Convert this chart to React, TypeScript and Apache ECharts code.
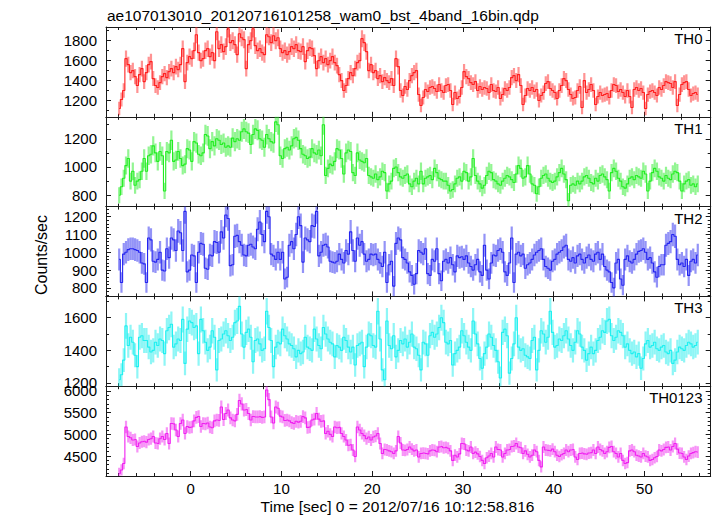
import React, { useEffect, useRef } from "react";
import * as echarts from "echarts";

const TITLE = "ae107013010_20120716101258_wam0_bst_4band_16bin.qdp";
const X_LABEL = "Time [sec] 0 = 2012/07/16 10:12:58.816";
const Y_LABEL = "Counts/sec";

// bin width (s) and centre of the first bin
const BIN = 0.25;
const T_START = -7.875;

const TH0 = [
  1120, 1210, 1300, 1620, 1560, 1480, 1500, 1440, 1350, 1460, 1520, 1390, 1480, 1560, 1590, 1420,
  1350, 1330, 1380, 1440, 1470, 1430, 1490, 1520, 1480, 1540, 1510, 1560, 1720, 1390, 1580, 1640,
  1620, 1700, 1860, 1680, 1600, 1620, 1700, 1720, 1640, 1680, 1600, 1890, 1720, 1760, 1690, 1740,
  1920, 1780, 1800, 1760, 1660, 1870, 1830, 1810, 1520, 1760, 1800, 1920, 1750, 1700, 1720, 1680,
  1660, 1860, 1840, 1780, 1850, 1800, 1830, 1720, 1680, 1700, 1660, 1690, 1740, 1720, 1760, 1700,
  1690, 1740, 1590, 1700, 1730, 1720, 1650, 1520, 1600, 1640, 1580, 1620, 1560, 1600, 1640, 1580,
  1550, 1460, 1400, 1300, 1350, 1420, 1480, 1450, 1520, 1580, 1600, 1820, 1780, 1690, 1500, 1560,
  1480, 1500, 1420, 1450, 1390, 1430, 1400, 1380, 1420, 1350, 1620, 1540, 1300, 1250, 1340, 1310,
  1400, 1450, 1480, 1500, 1260, 1150, 1230, 1310, 1290, 1330, 1340, 1320, 1290, 1360, 1300, 1280,
  1350, 1360, 1300, 1160, 1280, 1220, 1240, 1330, 1490, 1440, 1420, 1380, 1360, 1390, 1300, 1340,
  1310, 1330, 1320, 1280, 1360, 1300, 1290, 1330, 1220, 1260, 1320, 1300, 1330, 1430, 1450, 1400,
  1460, 1350, 1160, 1250, 1320, 1300, 1330, 1290, 1310, 1200, 1250, 1280, 1370, 1390, 1320, 1300,
  1280, 1220, 1300, 1350, 1420, 1400, 1310, 1260, 1220, 1230, 1300, 1340, 1130, 1400, 1280, 1310,
  1360, 1300, 1160, 1240, 1280, 1250, 1260, 1270, 1230, 1300, 1360, 1350, 1290, 1310, 1280, 1240,
  1300, 1240, 1130, 1310, 1330, 1300, 1320, 1280, 1120, 1260, 1290, 1300, 1280, 1250, 1330, 1310,
  1350, 1390, 1380, 1370, 1330, 1390, 1150, 1260, 1360, 1380, 1390, 1310, 1250, 1270, 1280, 1260,
];

const TH1 = [
  800, 860, 920, 1010, 1060, 900, 970, 870, 900, 910, 970, 1060, 970, 1080, 1090, 1150,
  1100, 1040, 1110, 1080, 830, 1110, 1100, 1190, 1040, 1050, 1110, 1060, 1010, 1020, 1130, 1120,
  1040, 1180, 1170, 1090, 1080, 1100, 1230, 1220, 1130, 1180, 1150, 1200, 1190, 1160, 1170, 1140,
  1150, 1140, 1205, 1180, 1200, 1190, 1250, 1270, 1250, 1240, 1160, 1230, 1270, 1260, 1200, 1190,
  1140, 1230, 1200, 1180, 1170, 1320, 1300, 1080, 1060, 1130, 1140, 1120, 1150, 1200, 1210, 1190,
  1130, 1090, 1080, 1060, 1070, 1130, 1100, 1090, 1120, 1080, 1300, 940, 990, 1020, 1010, 1040,
  1130, 1120, 1060, 950, 1100, 1120, 1110, 960, 940, 1100, 1050, 1040, 1030, 1060, 940, 930,
  920, 950, 910, 930, 970, 960, 830, 880, 900, 990, 1000, 960, 930, 920, 940, 950,
  880, 860, 900, 920, 880, 970, 880, 920, 930, 940, 910, 990, 960, 920, 910, 900,
  900, 870, 830, 840, 880, 920, 930, 900, 970, 960, 900, 930, 1060, 940, 900, 880,
  850, 870, 940, 970, 960, 910, 900, 880, 870, 900, 920, 940, 930, 910, 890, 950,
  1010, 990, 920, 930, 1010, 950, 880, 870, 810, 860, 920, 940, 950, 920, 900, 890,
  900, 930, 960, 990, 950, 910, 760, 870, 880, 870, 900, 880, 900, 930, 940, 920,
  890, 880, 920, 900, 940, 950, 930, 910, 830, 960, 990, 970, 920, 900, 860, 850,
  880, 920, 930, 910, 940, 930, 920, 970, 950, 830, 900, 960, 990, 970, 930, 920,
  900, 940, 920, 910, 950, 970, 960, 900, 830, 880, 900, 910, 870, 880, 860, 880,
];

const TH2 = [
  960, 830, 990, 1000, 1015, 1020, 1020, 1015, 1010, 1000, 940, 935, 830, 1080, 1070, 950,
  945, 960, 1000, 900, 895, 1020, 970, 1080, 1070, 1010, 1120, 1110, 1010, 1230, 890, 900,
  985, 980, 830, 1000, 1050, 1045, 910, 905, 985, 980, 1060, 1055, 1000, 1115, 1080, 1210,
  1190, 925, 930, 1090, 1095, 1060, 1040, 985, 980, 1040, 1045, 1030, 1020, 1130, 1170, 1100,
  1060, 1230, 1200, 990, 980, 960, 1000, 960, 1000, 850, 860, 1040, 1060, 1020, 1100, 1200,
  1150, 945, 1080, 1070, 1060, 1150, 1145, 1230, 980, 1000, 1040, 1045, 1030, 950, 945, 940,
  950, 990, 960, 940, 1010, 990, 1115, 1010, 950, 1080, 1040, 1060, 990, 950, 960, 990,
  985, 990, 960, 940, 920, 1000, 830, 930, 950, 810, 1050, 1080, 1070, 970, 960, 940,
  890, 870, 820, 880, 1010, 1000, 990, 1020, 880, 870, 960, 950, 1020, 880, 840, 950,
  960, 940, 970, 930, 890, 980, 970, 975, 960, 980, 940, 920, 900, 930, 960, 890,
  870, 1040, 900, 850, 940, 985, 980, 1010, 1020, 1000, 890, 870, 940, 1080, 830, 990,
  1000, 980, 990, 910, 930, 940, 960, 985, 1000, 1010, 1020, 960, 920, 910, 900, 950,
  960, 990, 1000, 1010, 1030, 1040, 960, 950, 970, 940, 980, 990, 960, 940, 970, 985,
  960, 950, 990, 1000, 960, 990, 920, 900, 890, 830, 800, 940, 960, 850, 815, 960,
  980, 950, 940, 960, 990, 1005, 1010, 1020, 1000, 960, 970, 940, 890, 860, 920, 930,
  930, 1040, 1050, 1060, 1100, 1090, 960, 930, 940, 920, 960, 870, 950, 960, 940, 985,
];

const TH3 = [
  1220, 1250, 1340, 1550, 1430, 1480, 1450, 1370, 1300, 1480, 1490, 1460, 1460, 1420, 1390, 1400,
  1450, 1430, 1470, 1460, 1380, 1520, 1540, 1560, 1420, 1440, 1470, 1460, 1590, 1320, 1530, 1580,
  1570, 1540, 1550, 1380, 1590, 1520, 1450, 1400, 1420, 1520, 1480, 1280, 1460, 1470, 1500, 1520,
  1490, 1460, 1480, 1570, 1580, 1670, 1500, 1420, 1510, 1530, 1480, 1330, 1460, 1470, 1440, 1400,
  1410, 1640, 1540, 1460, 1300, 1420, 1450, 1440, 1530, 1490, 1470, 1440, 1430, 1410, 1360, 1400,
  1380, 1390, 1480, 1420, 1410, 1400, 1530, 1470, 1430, 1410, 1540, 1500, 1470, 1450, 1440, 1360,
  1430, 1420, 1400, 1480, 1460, 1420, 1390, 1420, 1310, 1430, 1440, 1450, 1300, 1420, 1500, 1490,
  1430, 1420, 1640, 1470, 1280, 1220, 1580, 1430, 1410, 1490, 1360, 1400, 1460, 1440, 1470, 1420,
  1450, 1500, 1420, 1410, 1370, 1280, 1450, 1440, 1370, 1490, 1510, 1480, 1500, 1540, 1600, 1570,
  1450, 1440, 1460, 1310, 1380, 1400, 1420, 1520, 1490, 1450, 1420, 1400, 1580, 1500, 1440, 1350,
  1290, 1380, 1420, 1500, 1480, 1430, 1400, 1330, 1230, 1510, 1530, 1490, 1260, 1350, 1440, 1600,
  1420, 1400, 1410, 1370, 1360, 1350, 1460, 1480, 1280, 1400, 1520, 1500, 1450, 1480, 1640, 1510,
  1420, 1430, 1470, 1460, 1490, 1520, 1470, 1430, 1400, 1450, 1520, 1500, 1420, 1400, 1340, 1380,
  1420, 1380, 1400, 1460, 1480, 1520, 1510, 1580, 1590, 1490, 1460, 1480, 1520, 1510, 1490, 1420,
  1440, 1400, 1380, 1390, 1360, 1380, 1290, 1350, 1440, 1460, 1420, 1430, 1450, 1410, 1400, 1420,
  1430, 1390, 1380, 1400, 1320, 1340, 1390, 1420, 1410, 1400, 1430, 1450, 1440, 1420, 1430, 1450,
];

const TH0123 = [
  4100, 4180, 4330, 5170, 4950, 4920, 4870, 4880, 4720, 4800, 4830, 4840, 4820, 4880, 4900, 4950,
  4800, 4790, 4900, 4950, 4880, 5020, 4790, 5250, 5240, 5100, 4950, 5250, 5330, 5020, 5180, 5160,
  5170, 5310, 5390, 5410, 5180, 5250, 5240, 5260, 5170, 5150, 5310, 5330, 5320, 5630, 5340, 5480,
  5560, 5380, 5330, 5310, 5460, 5780, 5700, 5560, 5570, 5480, 5330, 5410, 5400, 5400, 5410, 5390,
  5400, 6020, 5800, 5400, 5260, 5630, 5600, 5420, 5400, 5320, 5330, 5310, 5270, 5250, 5300, 5280,
  5300, 5410, 5380, 5160, 5170, 5330, 5350, 5480, 5350, 5300, 5310, 5020, 5070, 5000, 4950, 5170,
  5150, 5160, 5020, 4950, 4870, 4750, 4760, 4640, 4490, 5170, 5100, 5020, 4970, 4900, 4940, 4870,
  4940, 4960, 5020, 4790, 4560, 4650, 4640, 4620, 4600, 4560, 4620, 4950, 4800, 4640, 4630, 4650,
  4710, 4660, 4620, 4640, 4480, 4560, 4570, 4560, 4550, 4620, 4640, 4630, 4600, 4710, 4720, 4690,
  4700, 4680, 4620, 4400, 4520, 4480, 4550, 4790, 4780, 4640, 4620, 4710, 4560, 4590, 4550, 4490,
  4400, 4330, 4460, 4500, 4560, 4480, 4710, 4650, 4640, 4480, 4560, 4640, 4650, 4720, 4730, 4790,
  4710, 4690, 4560, 4620, 4540, 4480, 4520, 4640, 4600, 4400, 4250, 4710, 4640, 4630, 4620, 4660,
  4600, 4520, 4490, 4530, 4560, 4640, 4600, 4640, 4650, 4480, 4420, 4560, 4570, 4550, 4540, 4570,
  4580, 4640, 4560, 4710, 4650, 4620, 4560, 4600, 4700, 4720, 4600, 4560, 4480, 4560, 4400, 4330,
  4350, 4620, 4640, 4600, 4520, 4500, 4480, 4560, 4500, 4480, 4400, 4420, 4460, 4490, 4640, 4620,
  4650, 4700, 4710, 4640, 4720, 4790, 4660, 4570, 4560, 4480, 4420, 4500, 4560, 4580, 4600, 4590,
];

const PANEL_NAMES = ["TH0", "TH1", "TH2", "TH3", "TH0123"];
const PANEL_VALUES = [TH0, TH1, TH2, TH3, TH0123];
const PANEL_COLORS = ["#ff2020", "#22ee22", "#2424f0", "#1ef0f0", "#f020f0"];
const PANEL_LIGHT = [
  "rgba(255,40,40,0.5)",
  "rgba(40,235,40,0.5)",
  "rgba(40,40,240,0.5)",
  "rgba(30,238,238,0.5)",
  "rgba(240,40,240,0.5)",
];
const Y_RANGES = [
  [1037, 1937],
  [719, 1356],
  [752, 1257],
  [1180, 1731],
  [4041, 6108],
];
const Y_MAJOR = [
  [1200, 1400, 1600, 1800],
  [800, 1000, 1200],
  [800, 900, 1000, 1100, 1200],
  [1200, 1400, 1600],
  [4500, 5000, 5500, 6000],
];
const Y_MINOR_STEP = [100, 100, 20, 100, 100];

const X_MIN = -9.33;
const X_MAX = 57.3;
const X_MAJOR = [0, 10, 20, 30, 40, 50];
const X_MINOR_STEP = 2;

const FONT = "'Liberation Sans', Arial, Helvetica, sans-serif";
const AX = "#1a1a1a";
const GRID_LEFT = 106;
const GRID_RIGHT = 6.3;
const PANEL_TOP = 27;
const PANEL_H = 89.8;

function minorTicks(min: number, max: number, step: number, major: number[]) {
  const out: number[] = [];
  const start = Math.ceil(min / step) * step;
  for (let v = start; v <= max + 1e-9; v += step) {
    const r = Math.round(v * 1000) / 1000;
    if (!major.some((m) => Math.abs(m - r) < 1e-6)) out.push(r);
  }
  return out;
}

function buildOption() {
  const grids: any[] = [];
  const xAxes: any[] = [];
  const yAxes: any[] = [];
  const series: any[] = [];
  const graphics: any[] = [];
  const xMinor = minorTicks(X_MIN, X_MAX, X_MINOR_STEP, X_MAJOR);

  PANEL_NAMES.forEach((name, i) => {
    const top = PANEL_TOP + i * PANEL_H;
    grids.push({ left: GRID_LEFT, right: GRID_RIGHT, top, height: PANEL_H });
    const isLast = i === PANEL_NAMES.length - 1;
    const [ymin, ymax] = Y_RANGES[i];
    const yMinor = minorTicks(ymin, ymax, Y_MINOR_STEP[i], Y_MAJOR[i]);

    const xBase = {
      type: "value",
      gridIndex: i,
      min: X_MIN,
      max: X_MAX,
      splitLine: { show: false },
    };
    const mkX = (position: string, major: boolean) => ({
      ...xBase,
      position,
      axisLine: { show: major, onZero: false, lineStyle: { color: AX, width: 1 } },
      axisTick: {
        show: true,
        inside: true,
        length: major ? 5 : 3,
        customValues: major ? X_MAJOR : xMinor,
        lineStyle: { color: AX, width: 1 },
      },
      axisLabel: {
        show: major && position === "bottom" && isLast,
        customValues: X_MAJOR,
        formatter: (v: number) => String(v),
        margin: 5,
        color: "#000",
        fontSize: 15,
        fontFamily: FONT,
      },
    });
    xAxes.push(mkX("bottom", true), mkX("bottom", false), mkX("top", true), mkX("top", false));

    const yBase = {
      type: "value",
      gridIndex: i,
      min: ymin,
      max: ymax,
      splitLine: { show: false },
    };
    const mkY = (position: string, major: boolean) => ({
      ...yBase,
      position,
      axisLine: { show: major, onZero: false, lineStyle: { color: AX, width: 1 } },
      axisTick: {
        show: true,
        inside: true,
        length: major ? 5 : 3,
        customValues: major ? Y_MAJOR[i] : yMinor,
        lineStyle: { color: AX, width: 1 },
      },
      axisLabel: {
        show: major && position === "left",
        customValues: Y_MAJOR[i],
        formatter: (v: number) => String(v),
        margin: 9,
        color: "#000",
        fontSize: 15,
        fontFamily: FONT,
      },
    });
    yAxes.push(mkY("left", true), mkY("left", false), mkY("right", true), mkY("right", false));

    const vals = PANEL_VALUES[i];
    const times = vals.map((_, k) => T_START + k * BIN);
    const errData = vals.map((v, k) => [times[k], v, 2 * Math.sqrt(v)]);
    const color = PANEL_COLORS[i];
    const light = PANEL_LIGHT[i];
    series.push({
      type: "custom",
      name: name + " err",
      xAxisIndex: i * 4,
      yAxisIndex: i * 4,
      clip: true,
      silent: true,
      data: errData,
      z: 2,
      renderItem: (params: any, api: any) => {
        const t = api.value(0);
        const v = api.value(1);
        const e = api.value(2);
        const c = api.coord([t, v]);
        const lo = api.coord([t, v - e]);
        const hi = api.coord([t, v + e]);
        return {
          type: "line",
          shape: { x1: c[0], y1: lo[1], x2: c[0], y2: hi[1] },
          style: { stroke: light, lineWidth: 2.2 },
        };
      },
    });
    series.push({
      type: "line",
      name,
      xAxisIndex: i * 4,
      yAxisIndex: i * 4,
      step: "middle",
      showSymbol: false,
      symbol: "none",
      clip: true,
      silent: true,
      z: 3,
      lineStyle: { color, width: 1.1 },
      data: vals.map((v, k) => [times[k], v]),
    });

    graphics.push({
      type: "text",
      x: 702.5,
      y: top + 11.5,
      style: {
        text: name,
        fill: "#000",
        fontSize: 15,
        fontFamily: FONT,
        align: "right",
        verticalAlign: "middle",
      },
    });
  });

  graphics.push(
    {
      type: "text",
      x: 107,
      y: 15.5,
      style: { text: TITLE, fill: "#000", fontSize: 15.5, fontFamily: FONT, align: "left", verticalAlign: "middle" },
    },
    {
      type: "text",
      x: 397.5,
      y: 506,
      style: { text: X_LABEL, fill: "#000", fontSize: 15.5, fontFamily: FONT, align: "center", verticalAlign: "middle" },
    },
    {
      type: "text",
      x: 41,
      y: 255,
      rotation: Math.PI / 2,
      style: { text: Y_LABEL, fill: "#000", fontSize: 16, fontFamily: FONT, align: "center", verticalAlign: "middle" },
    }
  );

  return {
    animation: false,
    backgroundColor: "#ffffff",
    grid: grids,
    xAxis: xAxes,
    yAxis: yAxes,
    series,
    graphic: graphics,
  };
}

export default function App() {
  const ref = useRef<HTMLDivElement>(null);
  useEffect(() => {
    if (!ref.current) return;
    const chart = echarts.init(ref.current, undefined, { renderer: "svg" });
    chart.setOption(buildOption() as any);
    return () => chart.dispose();
  }, []);
  return (
    <div
      ref={ref}
      style={{ position: "fixed", left: 0, top: 0, width: 717, height: 516, background: "#fff" }}
    />
  );
}
